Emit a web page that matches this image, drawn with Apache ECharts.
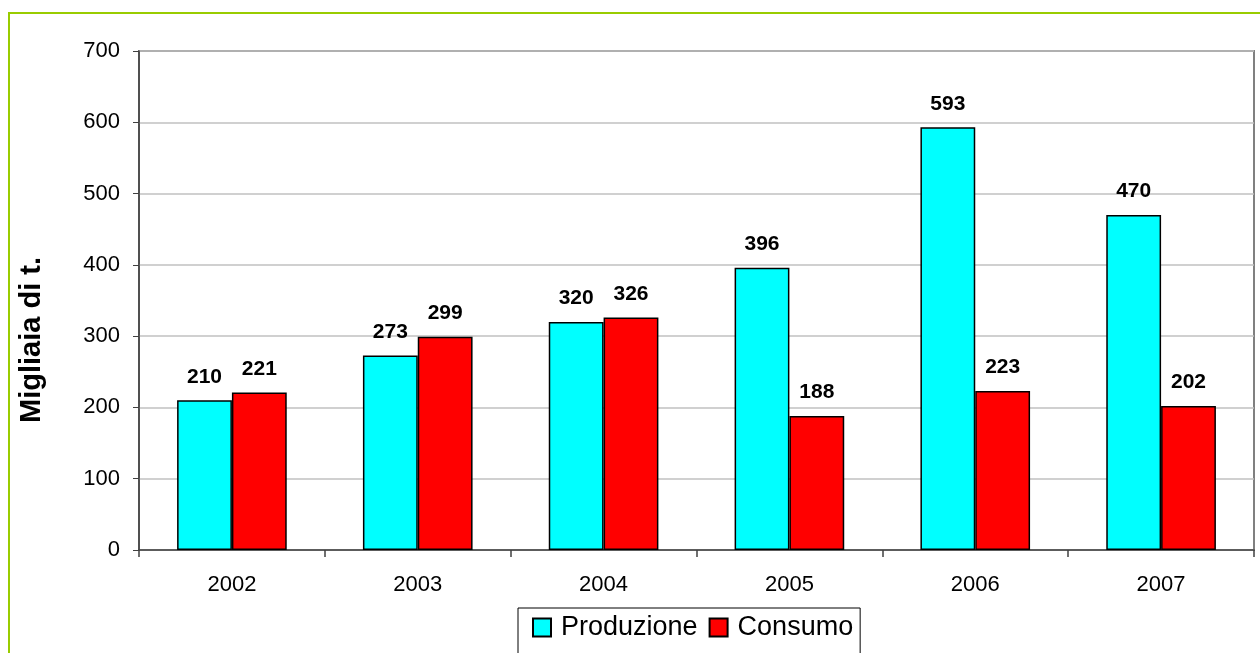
<!DOCTYPE html>
<html>
<head>
<meta charset="utf-8">
<script src="https://cdn.jsdelivr.net/npm/echarts@6/dist/echarts.min.js"></script>
<style>
html,body{margin:0;padding:0;background:#fff;}
#chart{width:1260px;height:653px;}
</style>
</head>
<body>
<div id="chart"></div>
<script>
const categories = ['2002', '2003', '2004', '2005', '2006', '2007'];
const produzione = [210, 273, 320, 396, 593, 470];
const consumo = [221, 299, 326, 188, 223, 202];
const yTicks = [0, 100, 200, 300, 400, 500, 600, 700];
const seriesNames = ['Produzione', 'Consumo'];
const yAxisTitle = 'Migliaia di t.';

const FONT = '"Liberation Sans", Arial, sans-serif';
const chart = echarts.init(document.getElementById('chart'), null, {renderer: 'canvas'});

const labelCfg = {
  show: true, position: 'top', distance: 13,
  color: '#000', fontWeight: 'bold', fontSize: 21, fontFamily: FONT
};

chart.setOption({
  animation: false,
  backgroundColor: '#fff',
  graphic: [
    {type: 'rect', shape: {x: 9, y: 13, width: 1300, height: 700},
     style: {fill: 'none', stroke: '#99cc00', lineWidth: 2}, z: -10},
    {type: 'text', x: 32, y: 340, rotation: Math.PI / 2,
     style: {text: yAxisTitle, fill: '#000', font: 'bold 29px ' + FONT,
             textAlign: 'center', textVerticalAlign: 'middle'}}
  ],
  grid: {
    left: 139, top: 51, right: 6, bottom: 103,
    show: true, borderColor: '#808080', borderWidth: 2
  },
  legend: {
    data: seriesNames,
    left: 518, top: 608,
    orient: 'horizontal',
    icon: 'rect',
    itemWidth: 18, itemHeight: 18, itemGap: 11,
    borderColor: '#000', borderWidth: 1,
    padding: [6, 7, 20, 14],
    textStyle: {fontSize: 27, fontFamily: FONT, color: '#000', padding: [0, 0, 0, 5]}
  },
  xAxis: {
    type: 'category',
    data: categories,
    axisLine: {show: true, lineStyle: {color: '#404040', width: 1.5}},
    axisTick: {show: true, length: 7, lineStyle: {color: '#404040', width: 1.5}},
    axisLabel: {fontSize: 22, fontFamily: FONT, color: '#000', margin: 24},
    splitLine: {show: false}
  },
  yAxis: {
    type: 'value',
    min: yTicks[0], max: yTicks[yTicks.length - 1], interval: 100,
    axisLine: {show: true, lineStyle: {color: '#404040', width: 1.5}},
    axisTick: {show: true, length: 6, lineStyle: {color: '#404040', width: 1}},
    axisLabel: {fontSize: 22, fontFamily: FONT, color: '#000', margin: 19},
    splitLine: {show: true, lineStyle: {color: '#c0c0c0', width: 1.5}}
  },
  series: [
    {
      name: seriesNames[0], type: 'bar', data: produzione,
      barGap: '0%', barCategoryGap: '41%',
      itemStyle: {color: '#00ffff', borderColor: '#000', borderWidth: 1.5},
      label: labelCfg
    },
    {
      name: seriesNames[1], type: 'bar', data: consumo,
      barGap: '0%', barCategoryGap: '41%',
      itemStyle: {color: '#ff0000', borderColor: '#000', borderWidth: 1.5},
      label: labelCfg
    }
  ]
});
</script>
</body>
</html>
